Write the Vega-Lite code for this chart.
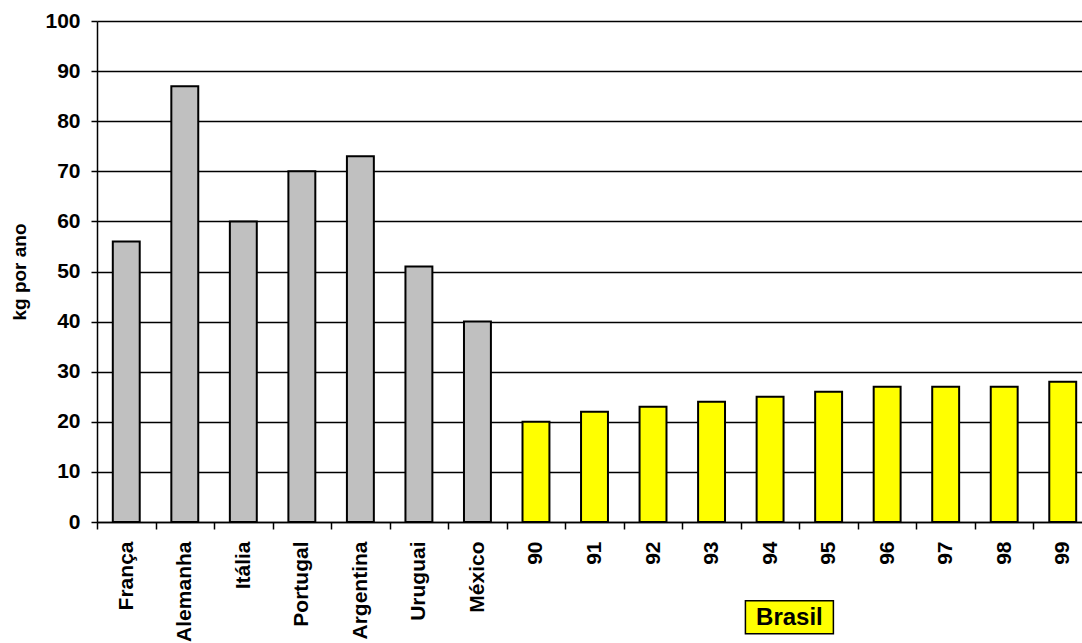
{
  "$schema": "https://vega.github.io/schema/vega-lite/v6.json",
  "width": 985,
  "height": 501,
  "autosize": "none",
  "padding": {"left": 97, "top": 21, "right": 0, "bottom": 121},
  "background": "white",
  "config": {
    "view": {"stroke": null},
    "font": "Liberation Sans",
    "text": {"font": "Liberation Sans"}
  },
  "layer": [
    {
      "data": {
        "values": [
          {"categoria": "França", "kg": 56, "grupo": "outros"},
          {"categoria": "Alemanha", "kg": 87, "grupo": "outros"},
          {"categoria": "Itália", "kg": 60, "grupo": "outros"},
          {"categoria": "Portugal", "kg": 70, "grupo": "outros"},
          {"categoria": "Argentina", "kg": 73, "grupo": "outros"},
          {"categoria": "Uruguai", "kg": 51, "grupo": "outros"},
          {"categoria": "México", "kg": 40, "grupo": "outros"},
          {"categoria": "90", "kg": 20, "grupo": "Brasil"},
          {"categoria": "91", "kg": 22, "grupo": "Brasil"},
          {"categoria": "92", "kg": 23, "grupo": "Brasil"},
          {"categoria": "93", "kg": 24, "grupo": "Brasil"},
          {"categoria": "94", "kg": 25, "grupo": "Brasil"},
          {"categoria": "95", "kg": 26, "grupo": "Brasil"},
          {"categoria": "96", "kg": 27, "grupo": "Brasil"},
          {"categoria": "97", "kg": 27, "grupo": "Brasil"},
          {"categoria": "98", "kg": 27, "grupo": "Brasil"},
          {"categoria": "99", "kg": 28, "grupo": "Brasil"}
        ]
      },
      "mark": {"type": "bar", "width": {"band": 0.46}, "stroke": "black", "strokeWidth": 2},
      "encoding": {
        "x": {
          "field": "categoria",
          "type": "nominal",
          "sort": null,
          "scale": {
            "domain": ["França", "Alemanha", "Itália", "Portugal", "Argentina", "Uruguai", "México", "90", "91", "92", "93", "94", "95", "96", "97", "98", "99"],
            "range": [0, 995],
            "paddingInner": 0,
            "paddingOuter": 0
          },
          "axis": {
            "title": null,
            "labelAngle": 270,
            "labelAlign": "right",
            "labelBaseline": "middle",
            "labelFont": "Liberation Sans",
            "labelFontSize": 21,
            "labelFontWeight": "bold",
            "labelColor": "black",
            "labelPadding": 12,
            "tickBand": "extent",
            "tickSize": 7,
            "tickColor": "black",
            "tickWidth": 1.5,
            "domainColor": "black",
            "domainWidth": 1.5,
            "grid": false,
            "labelOverlap": false
          }
        },
        "y": {
          "field": "kg",
          "type": "quantitative",
          "scale": {"domain": [0, 100], "nice": false},
          "axis": {
            "title": "kg por ano",
            "titleFont": "Liberation Sans",
            "titleFontSize": 19,
            "titleFontWeight": "bold",
            "titleColor": "black",
            "titlePadding": 15,
            "values": [0, 10, 20, 30, 40, 50, 60, 70, 80, 90, 100],
            "grid": true,
            "gridColor": "black",
            "gridWidth": 1.5,
            "gridOpacity": 1,
            "domainColor": "black",
            "domainWidth": 1.5,
            "tickSize": 6,
            "tickColor": "black",
            "tickWidth": 1.5,
            "labelFont": "Liberation Sans",
            "labelFontSize": 21,
            "labelFontWeight": "bold",
            "labelColor": "black",
            "labelPadding": 11
          }
        },
        "color": {
          "field": "grupo",
          "type": "nominal",
          "scale": {"domain": ["outros", "Brasil"], "range": ["#C0C0C0", "#FFFF00"]},
          "legend": null
        }
      }
    },
    {
      "data": {"values": [{"rotulo": "Brasil"}]},
      "mark": {
        "type": "point",
        "shape": "M-1.333,-0.5H1.333V0.5H-1.333Z",
        "size": 4356,
        "filled": true,
        "fill": "#FFFF00",
        "stroke": "black",
        "strokeWidth": 1.5,
        "opacity": 1
      },
      "encoding": {
        "x": {"datum": "94", "type": "nominal", "bandPosition": 0.83},
        "y": {"datum": -19, "type": "quantitative"}
      }
    },
    {
      "data": {"values": [{"rotulo": "Brasil"}]},
      "mark": {"type": "text", "font": "Liberation Sans", "fontSize": 24, "fontWeight": "bold", "color": "black", "align": "center", "baseline": "middle", "dy": 1},
      "encoding": {
        "x": {"datum": "94", "type": "nominal", "bandPosition": 0.83},
        "y": {"datum": -19, "type": "quantitative"},
        "text": {"field": "rotulo"}
      }
    }
  ]
}
